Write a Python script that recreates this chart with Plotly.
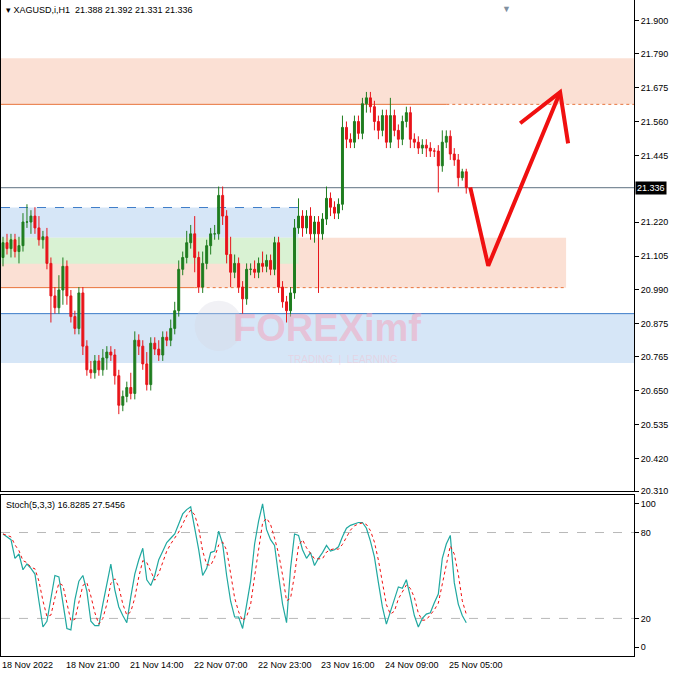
import pandas as pd
import plotly.graph_objects as go
from plotly.subplots import make_subplots

# hourly closes, XAGUSD H1
closes = [21.15, 21.13, 21.16, 21.12, 21.14, 21.22, 21.22, 21.24, 21.20, 21.16,
          21.17, 21.08, 20.97, 20.93, 20.99, 21.07, 20.97, 20.90, 20.86, 20.98,
          20.80, 20.72, 20.71, 20.75, 20.72, 20.76, 20.78, 20.77, 20.70, 20.60,
          20.63, 20.66, 20.64, 20.82, 20.80, 20.74, 20.67, 20.81, 20.79, 20.77,
          20.83, 20.82, 20.86, 20.92, 21.06, 21.10, 21.15, 21.18, 21.10, 21.00,
          21.08, 21.14, 21.18, 21.18, 21.31, 21.24, 21.11, 21.05, 21.08, 21.00,
          20.96, 21.06, 21.06, 21.05, 21.08, 21.07, 21.09, 21.06, 21.15, 21.00,
          20.95, 20.92, 20.98, 21.20, 21.24, 21.20, 21.24, 21.18, 21.22, 21.18,
          21.23, 21.30, 21.27, 21.25, 21.28, 21.54, 21.50, 21.49, 21.56, 21.52,
          21.62, 21.64, 21.61, 21.56, 21.53, 21.58, 21.49, 21.58, 21.53, 21.50,
          21.56, 21.59, 21.50, 21.49, 21.47, 21.48, 21.47, 21.46, 21.46, 21.41,
          21.49, 21.51, 21.45, 21.43, 21.37, 21.39, 21.336]
first_open = 21.10
wick_hi = [0.02, 0.03, 0.02, 0.02, 0.03, 0.03, 0.06, 0.02, 0.03, 0.04,
           0.02, 0.03, 0.02, 0.03, 0.05, 0.03, 0.02, 0.02, 0.02, 0.02,
           0.02, 0.02, 0.03, 0.02, 0.02, 0.03, 0.02, 0.02, 0.02, 0.02,
           0.02, 0.02, 0.05, 0.03, 0.02, 0.02, 0.04, 0.02, 0.02, 0.03,
           0.02, 0.02, 0.03, 0.03, 0.03, 0.02, 0.04, 0.03, 0.06, 0.02,
           0.04, 0.02, 0.02, 0.03, 0.03, 0.03, 0.02, 0.06, 0.03, 0.02,
           0.02, 0.02, 0.02, 0.03, 0.02, 0.04, 0.02, 0.02, 0.02, 0.02,
           0.02, 0.02, 0.02, 0.03, 0.06, 0.02, 0.02, 0.03, 0.02, 0.02,
           0.02, 0.04, 0.02, 0.02, 0.02, 0.04, 0.02, 0.02, 0.02, 0.02,
           0.02, 0.02, 0.02, 0.02, 0.02, 0.02, 0.02, 0.06, 0.02, 0.02,
           0.02, 0.02, 0.02, 0.02, 0.02, 0.02, 0.02, 0.02, 0.01, 0.02,
           0.04, 0.02, 0.02, 0.02, 0.02, 0.01, 0.01]
wick_lo = [0.03, 0.02, 0.03, 0.02, 0.04, 0.02, 0.02, 0.04, 0.02, 0.02,
           0.03, 0.02, 0.09, 0.02, 0.02, 0.05, 0.03, 0.02, 0.02, 0.02,
           0.03, 0.02, 0.02, 0.02, 0.02, 0.02, 0.04, 0.02, 0.03, 0.03,
           0.02, 0.02, 0.02, 0.02, 0.03, 0.02, 0.02, 0.02, 0.02, 0.02,
           0.02, 0.02, 0.02, 0.02, 0.02, 0.02, 0.02, 0.02, 0.05, 0.02,
           0.02, 0.02, 0.03, 0.02, 0.02, 0.03, 0.03, 0.05, 0.02, 0.02,
           0.05, 0.02, 0.02, 0.02, 0.02, 0.02, 0.02, 0.02, 0.02, 0.02,
           0.02, 0.04, 0.02, 0.02, 0.02, 0.03, 0.02, 0.02, 0.03, 0.20,
           0.02, 0.02, 0.03, 0.02, 0.02, 0.02, 0.03, 0.02, 0.02, 0.02,
           0.02, 0.03, 0.02, 0.03, 0.03, 0.02, 0.02, 0.02, 0.02, 0.03,
           0.02, 0.02, 0.03, 0.02, 0.02, 0.02, 0.03, 0.02, 0.02, 0.09,
           0.02, 0.02, 0.02, 0.02, 0.03, 0.01, 0.02]

stoch_k = [79, 77, 75, 62, 65, 54, 58, 55, 51, 32, 14, 18, 35, 50, 49, 30, 13, 12, 33, 46,
           50, 39, 18, 15, 15, 30, 45, 58, 40, 28, 22, 17, 35, 51, 61, 69, 47, 43, 50, 61,
           67, 73, 76, 79, 86, 93, 96, 98, 83, 68, 50, 55, 66, 67, 81, 72, 50, 32, 21, 21,
           13, 30, 46, 72, 88, 100, 82, 75, 71, 50, 30, 17, 55, 79, 78, 68, 62, 66, 57, 62,
           66, 71, 67, 68, 70, 77, 83, 85, 86, 87, 87, 83, 74, 63, 45, 28, 16, 25, 34, 42,
           41, 47, 35, 22, 14, 20, 23, 24, 31, 37, 62, 72, 78, 45, 30, 22, 17]

price_ticks = [21.900, 21.790, 21.675, 21.560, 21.445, 21.220, 21.105,
               20.990, 20.875, 20.765, 20.650, 20.535, 20.420, 20.310]
last_price = 21.336
time_labels = ["18 Nov 2022", "18 Nov 21:00", "21 Nov 14:00", "22 Nov 07:00",
               "22 Nov 23:00", "23 Nov 16:00", "24 Nov 09:00", "25 Nov 05:00"]
time_pos = [0, 16, 32, 48, 64, 80, 96, 112]

# forecast arrow path (bar index, price)
arrow_x = [117, 121.5, 139.5]
arrow_y = [21.337, 21.072, 21.659]
head_x = [129.5, 139.5, 141.5]
head_y = [21.554, 21.659, 21.486]

idx = list(range(len(closes)))
opens = [first_open] + closes[:-1]
highs = [max(o, c) + w for o, c, w in zip(opens, closes, wick_hi)]
lows = [min(o, c) - w for o, c, w in zip(opens, closes, wick_lo)]
stoch_d = pd.Series(stoch_k).rolling(3, min_periods=1).mean().tolist()

GREEN = "#1f7d1f"
RED = "#e8141a"
FONT = "Liberation Sans, Arial"

fig = make_subplots(rows=2, cols=1, shared_xaxes=True, vertical_spacing=0.006,
                    row_heights=[0.753, 0.247])

# zones
zones = [  # x0, x1, y0, y1, colour
    (-0.5, 158, 21.618, 21.774, "#fbe0d4"),
    (-0.5, 141, 20.998, 21.167, "#fbe0d4"),
    (-0.5, 74, 21.167, 21.269, "#d6e6f7"),
    (-0.5, 74, 21.079, 21.167, "#d9f2d3"),
    (-0.5, 158, 20.743, 20.910, "#d6e6f7"),
]
for x0, x1, y0, y1, col in zones:
    fig.add_shape(type="rect", x0=x0, x1=x1, y0=y0, y1=y1, fillcolor=col,
                  line_width=0, layer="below", xref="x", yref="y")

lines = [  # x0, x1, y, colour, dash
    (-0.5, 111, 21.618, "#e8743b", "solid"),
    (111, 158, 21.618, "#e8743b", "dot"),
    (-0.5, 48, 20.998, "#e8743b", "solid"),
    (48, 141, 20.998, "#e8743b", "dot"),
    (-0.5, 74, 21.269, "#3d7cc9", "dash"),
    (-0.5, 158, 20.910, "#3d7cc9", "solid"),
    (-0.5, 158, last_price, "#5e7080", "solid"),
]
for x0, x1, y, col, dash in lines:
    fig.add_shape(type="line", x0=x0, x1=x1, y0=y, y1=y, xref="x", yref="y",
                  line=dict(color=col, width=1, dash=dash), layer="below")

# watermark
fig.add_shape(type="circle", x0=48, x1=60, y0=20.784, y1=20.954, xref="x", yref="y",
              fillcolor="rgba(215,215,225,0.35)", line_width=0, layer="below")
fig.add_annotation(x=0.515, y=0.50, xref="paper", yref="paper", text="<b>FOREXimf</b>",
                   showarrow=False, font=dict(size=38, color="rgba(245,160,185,0.5)",
                                              family=FONT))
fig.add_annotation(x=0.54, y=0.452, xref="paper", yref="paper",
                   text="TRADING  |  LEARNING", showarrow=False,
                   font=dict(size=10, color="rgba(245,190,205,0.45)", family=FONT))

fig.add_trace(go.Candlestick(
    x=idx, open=opens, high=highs, low=lows, close=closes,
    increasing=dict(line=dict(color=GREEN, width=1), fillcolor=GREEN),
    decreasing=dict(line=dict(color=RED, width=1), fillcolor=RED),
    whiskerwidth=0, showlegend=False, hoverinfo="skip"), row=1, col=1)

fig.add_trace(go.Scatter(x=arrow_x, y=arrow_y, mode="lines",
                         line=dict(color="#f01010", width=4), showlegend=False), row=1, col=1)
fig.add_trace(go.Scatter(x=head_x, y=head_y, mode="lines",
                         line=dict(color="#f01010", width=4), showlegend=False), row=1, col=1)

fig.add_trace(go.Scatter(x=idx, y=stoch_k, mode="lines",
                         line=dict(color="#20a8a0", width=1.2), showlegend=False), row=2, col=1)
fig.add_trace(go.Scatter(x=idx, y=stoch_d, mode="lines",
                         line=dict(color="#f01010", width=1, dash="dot"), showlegend=False),
              row=2, col=1)

for lvl in [20, 80]:
    fig.add_shape(type="line", x0=-0.5, x1=158, y0=lvl, y1=lvl, xref="x2", yref="y2",
                  line=dict(color="#b8b8b8", width=1, dash="dash"), layer="below")

axis_common = dict(showgrid=False, zeroline=False, showline=True, linecolor="black",
                   linewidth=1, mirror=True)
fig.update_xaxes(range=[-0.5, 158], showticklabels=False, ticks="",
                 rangeslider_visible=False, **axis_common)
fig.update_yaxes(side="right", ticks="outside", ticklen=4, tickcolor="black",
                 tickfont=dict(size=9, color="black", family=FONT), **axis_common)
fig.update_yaxes(range=[20.31, 21.971], tickmode="array", tickvals=price_ticks,
                 ticktext=["%.3f" % v for v in price_ticks], row=1, col=1)
fig.update_yaxes(range=[-6.25, 106.25], tickmode="array", tickvals=[0, 20, 80, 100],
                 row=2, col=1)

for lab, pos in zip(time_labels, time_pos):
    fig.add_annotation(x=pos, y=0, xref="x2", yref="paper", text=lab, showarrow=False,
                       xanchor="left", yanchor="top", yshift=-2, xshift=-3,
                       font=dict(size=9, color="black", family=FONT))

fig.add_annotation(x=1, y=last_price, xref="paper", yref="y", text="%.3f" % last_price,
                   showarrow=False, xanchor="left", bgcolor="black", xshift=1, borderpad=1,
                   font=dict(size=9, color="white", family=FONT))
fig.add_annotation(x=0, y=1, xref="paper", yref="paper", xanchor="left", yanchor="top",
                   text="▾ XAGUSD,i,H1  21.388 21.392 21.331 21.336", showarrow=False,
                   xshift=3, yshift=-3, font=dict(size=9, color="black", family=FONT))
fig.add_annotation(x=0, y=106.25, xref="paper", yref="y2", xanchor="left", yanchor="top",
                   text="Stoch(5,3,3) 16.8285 27.5456", showarrow=False, xshift=3, yshift=-3,
                   font=dict(size=9, color="black", family=FONT))
fig.add_annotation(x=126, y=1, xref="x", yref="paper", text="▼", showarrow=False,
                   yanchor="top", yshift=0, font=dict(size=9, color="#8090a0"))

fig.update_layout(width=676, height=674, margin=dict(l=1, r=42, t=0, b=18),
                  plot_bgcolor="white", paper_bgcolor="white", showlegend=False)

fig.write_html("out.html", config={"displayModeBar": False},
               post_script="document.body.style.margin='0';")
